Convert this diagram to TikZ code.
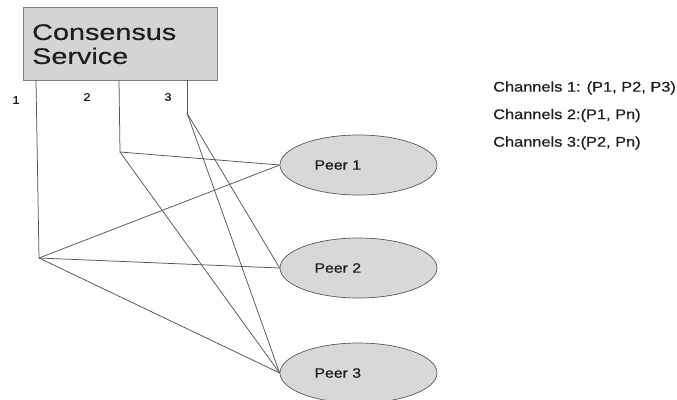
\documentclass[tikz,border=0pt]{standalone}
\usepackage{fontspec}
\setmainfont[FakeStretch=1.17, FakeBold=0.6]{Liberation Sans}
\newfontfamily\titlefont[FakeStretch=1.28, FakeBold=0.6]{Liberation Sans}
\usetikzlibrary{shapes.geometric}

\definecolor{boxfill}{HTML}{D4D4D4}
\definecolor{peerfill}{HTML}{D8D8D8}
\definecolor{wire}{HTML}{555555}
\definecolor{ink}{HTML}{1E1E1E}

\tikzset{
  service/.style={draw=black!50, fill=boxfill, line width=0.8pt,
    minimum width=194pt, minimum height=73pt, inner sep=0pt},
  peer/.style={ellipse, draw=black!65, fill=peerfill, line width=0.7pt,
    minimum width=157pt, minimum height=60pt, inner sep=0pt},
  peerlabel/.style={text=ink, font=\fontsize{13.5}{15}\selectfont},
  wirestyle/.style={draw=wire, line width=0.75pt},
  chanlabel/.style={text=ink, font=\fontsize{11}{12}\selectfont, inner sep=0pt},
  legend/.style={anchor=west, inner sep=0pt, text=ink,
    font=\fontsize{14}{16}\selectfont}
}

\begin{document}
\begin{tikzpicture}[x=1pt, y=-1pt]
  \useasboundingbox[fill=white] (0,0) rectangle (677,399);

  % ordering service box
  \node[service] (box) at (120,43.5) {};
  \node[anchor=north west, inner sep=0pt, align=left, text=ink,
        font=\titlefont\fontsize{22.5}{24}\selectfont] (title) at (32,24)
        {Consensus\\Service};

  % channel taps on the bottom edge of the box
  \coordinate (t1) at (36,80);
  \coordinate (t2) at (119,80);
  \coordinate (t3) at (187,80);
  \coordinate (v1) at (39,258);
  \coordinate (v2) at (120,152);
  \coordinate (v3) at (187,113);

  \node[chanlabel] (n1) at (16,100) {1};
  \node[chanlabel] (n2) at (87,97) {2};
  \node[chanlabel] (n3) at (168,97) {3};

  % peers
  \node[peer] (p1) at (358.5,165) {};
  \node[peer] (p2) at (358.5,268) {};
  \node[peer] (p3) at (358.5,373) {};
  \node[peerlabel, anchor=west] (l1) at (311,165) {Peer 1};
  \node[peerlabel, anchor=west] (l2) at (311,268) {Peer 2};
  \node[peerlabel, anchor=west] (l3) at (311,373) {Peer 3};

  % channel wiring
  \draw[wirestyle] (t1) -- (v1);
  \draw[wirestyle] (t2) -- (v2);
  \draw[wirestyle] (t3) -- (v3);
  \draw[wirestyle] (v1) -- (p1.west);
  \draw[wirestyle] (v1) -- (p2.west);
  \draw[wirestyle] (v1) -- (p3.west);
  \draw[wirestyle] (v2) -- (p1.west);
  \draw[wirestyle] (v2) -- (p3.west);
  \draw[wirestyle] (v3) -- (p2.west);
  \draw[wirestyle] (v3) -- (p3.west);

  % legend
  \node[legend] (c1) at (493,88) {Channels 1: (P1, P2, P3)};
  \node[legend] (c2) at (493,115.5) {Channels 2:(P1, Pn)};
  \node[legend] (c3) at (493,143) {Channels 3:(P2, Pn)};
\end{tikzpicture}
\end{document}
